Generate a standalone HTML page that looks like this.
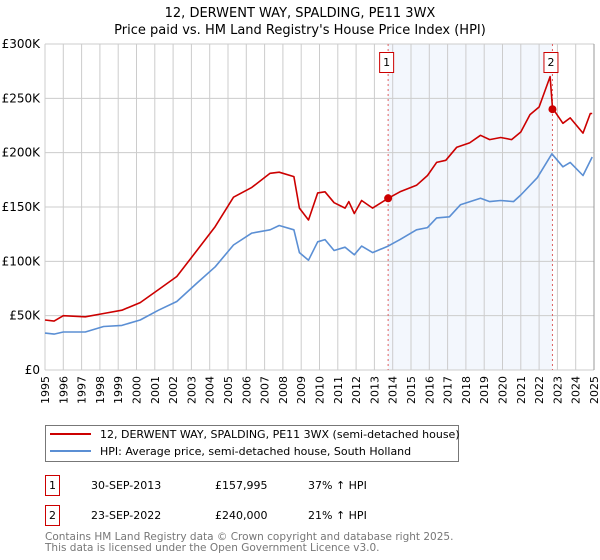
<!DOCTYPE html>
<html><head><meta charset="utf-8"><style>
body{margin:0;background:#fff;font-family:"DejaVu Sans","Liberation Sans",sans-serif;}
svg{display:block}
</style></head><body>
<svg width="600" height="560" xmlns="http://www.w3.org/2000/svg" font-family="DejaVu Sans, Liberation Sans, sans-serif">
<text x="300" y="17" text-anchor="middle" font-size="13">12, DERWENT WAY, SPALDING, PE11 3WX</text>
<text x="300" y="34" text-anchor="middle" font-size="13">Price paid vs. HM Land Registry's House Price Index (HPI)</text>
<g id="plot"></g>
<g>
<rect x="45.5" y="425.5" width="413" height="36" fill="#fff" stroke="#777"/>
<line x1="50" y1="434" x2="91" y2="434" stroke="#cc0000" stroke-width="2"/>
<text x="100" y="438" font-size="11">12, DERWENT WAY, SPALDING, PE11 3WX (semi-detached house)</text>
<line x1="50" y1="451" x2="91" y2="451" stroke="#5b8fd4" stroke-width="2"/>
<text x="100" y="455" font-size="11">HPI: Average price, semi-detached house, South Holland</text>
</g>
<g font-size="11">
<rect x="45.5" y="475.5" width="14" height="20" fill="#fff" stroke="#cc0000"/>
<text x="52.5" y="489" text-anchor="middle">1</text>
<text x="91" y="489">30-SEP-2013</text>
<text x="215" y="489">£157,995</text>
<text x="308" y="489">37% ↑ HPI</text>
<rect x="45.5" y="505.5" width="14" height="20" fill="#fff" stroke="#cc0000"/>
<text x="52.5" y="519" text-anchor="middle">2</text>
<text x="91" y="519">23-SEP-2022</text>
<text x="215" y="519">£240,000</text>
<text x="308" y="519">21% ↑ HPI</text>
</g>
<text x="45" y="540" font-size="10.5" fill="#777">Contains HM Land Registry data © Crown copyright and database right 2025.</text>
<text x="45" y="551" font-size="10.5" fill="#777">This data is licensed under the Open Government Licence v3.0.</text>
</svg>
<script>
const yearTicks=[1995,1996,1997,1998,1999,2000,2001,2002,2003,2004,2005,2006,2007,2008,2009,2010,2011,2012,2013,2014,2015,2016,2017,2018,2019,2020,2021,2022,2023,2024,2025];
const valueTicks=[0,50000,100000,150000,200000,250000,300000];
const valueTickLabels=["£0","£50K","£100K","£150K","£200K","£250K","£300K"];
const hpiDates=[1995,1995.5,1996,1997.2,1998.2,1999.2,2000.2,2001.2,2002.2,2003.3,2004.3,2005.3,2006.3,2007.3,2007.8,2008.6,2008.9,2009.4,2009.9,2010.3,2010.8,2011.4,2011.9,2012.3,2012.9,2013.75,2014.4,2015.3,2015.9,2016.4,2017.1,2017.7,2018.8,2019.3,2019.9,2020.6,2021,2021.9,2022.7,2023.3,2023.7,2024.4,2024.9];
const hpiValues=[34000,33000,35000,35000,40000,41000,46000,55000,63000,80000,95000,115000,126000,129000,133000,129000,108000,101000,118000,120000,110000,113000,106000,114000,108000,114000,120000,129000,131000,140000,141000,152000,158000,155000,156000,155000,161000,177000,199000,187000,191000,179000,196000];
const priceDates=[1995,1995.5,1996,1997.2,1998.2,1999.2,2000.2,2001.2,2002.2,2003.3,2004.3,2005.3,2006.3,2007.3,2007.8,2008.6,2008.9,2009.4,2009.9,2010.3,2010.8,2011.4,2011.6,2011.9,2012.3,2012.9,2013.75,2014.4,2015.3,2015.9,2016.4,2016.9,2017.5,2018.2,2018.8,2019.3,2019.9,2020.5,2021,2021.5,2022.0,2022.6,2022.73,2023.3,2023.7,2024.4,2024.8,2024.9];
const priceValues=[46000,45000,50000,49000,52000,55000,62000,74000,86000,110000,132000,159000,168000,181000,182000,178000,149000,138000,163000,164000,154000,149000,155000,144000,156000,149000,158000,164000,170000,179000,191000,193000,205000,209000,216000,212000,214000,212000,219000,235000,242000,270000,241000,227000,232000,218000,236000,236000];
const saleDates=[2013.75,2022.73];
const saleValues=[157995,240000];
const saleLabels=["1","2"];

const NS="http://www.w3.org/2000/svg";
const X0=45,X1=594,Y0=370,Y1=44;
const xs=t=>X0+(t-1995)/(2025-1995)*(X1-X0);
const ys=v=>Y0-(v/300000)*(Y0-Y1);
const plot=document.getElementById('plot');
function mk(tag,attrs,parent){const e=document.createElementNS(NS,tag);for(const k in attrs)e.setAttribute(k,attrs[k]);(parent||plot).appendChild(e);return e;}

const shade=mk('rect',{x:xs(saleDates[0]),y:Y1,width:xs(saleDates[1])-xs(saleDates[0]),height:Y0-Y1,fill:'#eef3fc',opacity:0.7});



yearTicks.forEach(t=>{
  const l=mk('line',{x1:xs(t),x2:xs(t),y1:Y1,y2:Y0,stroke:'#cccccc','stroke-width':1});
  
  
  const tx=mk('text',{x:0,y:0,'font-size':11,'text-anchor':'end',transform:`translate(${xs(t)+4},${Y0+6}) rotate(-90)`});
  tx.textContent=t;
  
  
});
valueTicks.forEach((v,i)=>{
  const l=mk('line',{x1:X0,x2:X1,y1:ys(v),y2:ys(v),stroke:'#cccccc','stroke-width':1});
  
  
  const tx=mk('text',{x:40,y:ys(v)+4,'font-size':12,'text-anchor':'end'});
  tx.textContent=valueTickLabels[i];
  
  
});
saleDates.forEach((d,i)=>{
  const l=mk('line',{x1:xs(d),x2:xs(d),y1:Y1,y2:Y0,stroke:'#e06060','stroke-width':1,'stroke-dasharray':'2,3'});
  
  
});
function path(dates,vals,color,name){
  let d='';dates.forEach((t,i)=>{d+=(i?'L':'M')+xs(t).toFixed(1)+','+ys(vals[i]).toFixed(1);});
  const p=mk('path',{d:d,fill:'none',stroke:color,'stroke-width':1.6,'stroke-linejoin':'round'});
  
  
}
path(hpiDates,hpiValues,'#5b8fd4','hpi-line');
path(priceDates,priceValues,'#cc0000','property-price-line');
saleDates.forEach((d,i)=>{
  const c=mk('circle',{cx:xs(d),cy:ys(saleValues[i]),r:4,fill:'#cc0000'});
  
  
  const b=mk('rect',{x:xs(d)-8.5,y:52.5,width:14,height:20,fill:'#fff',stroke:'#cc0000'});
  
  
  const tx=mk('text',{x:xs(d)-1.5,y:66,'font-size':11,'text-anchor':'middle'});
  tx.textContent=saleLabels[i];
  
  
});
const border=mk('line',{x1:X1,x2:X1,y1:Y1,y2:Y0,stroke:'#999','stroke-width':1});


</script>
</body></html>
